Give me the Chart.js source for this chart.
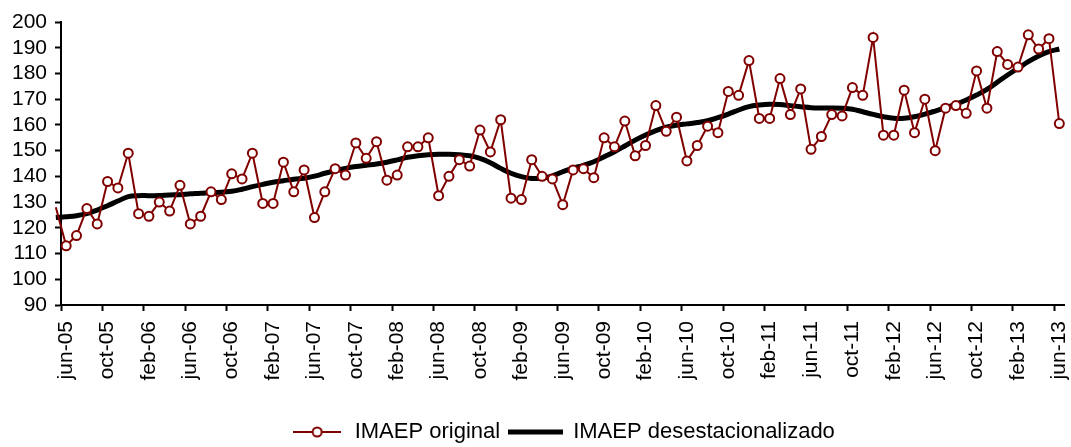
<!DOCTYPE html>
<html>
<head>
<meta charset="utf-8">
<script src="https://cdn.jsdelivr.net/npm/chart.js@4/dist/chart.umd.min.js"></script>
<style>
  html, body { margin: 0; padding: 0; background: #fff; }
  #wrap { width: 1071px; height: 447px; }
</style>
</head>
<body>
<div id="wrap"><canvas id="chart" width="1071" height="447"></canvas></div>
<script>
// month abbreviations (Spanish) and the span of the series: may-05 .. jun-13
// may-05 sits just left of the axis, only its line segment shows
var MONTHS = ["ene", "feb", "mar", "abr", "may", "jun", "jul", "ago", "sep", "oct", "nov", "dic"];
var labels = [];
for (var y = 2005, m = 4; y < 2013 || (y === 2013 && m <= 5); m++) {
  if (m === 12) { m = 0; y++; }
  labels.push(MONTHS[m] + "-" + String(y).slice(2));
}

var original = [
  128,
  113, 117, 127.5, 121.5, 138, 135.5, 149, 125.5, 124.5, 130, 126.5, 136.5,
  121.5, 124.5, 134, 131, 141, 139, 149, 129.5, 129.5, 145.5, 134, 142.5,
  124, 134, 143, 140.5, 153, 147, 153.5, 138.5, 140.5, 151.5, 151.5, 155,
  132.5, 140, 146.5, 144, 158, 149.5, 162, 131.5, 131, 146.5, 140, 139,
  129, 142.5, 143, 139.5, 155, 151.5, 161.5, 148, 152, 167.5, 157.5, 163,
  146, 152, 159.5, 157, 173, 171.5, 185, 162.5, 162.5, 178, 164, 174,
  150.5, 155.5, 164, 163.5, 174.5, 171.5, 194, 156, 156, 173.5, 157, 170,
  150, 166.5, 167.5, 164.5, 181, 166.5, 188.5, 183.5, 182.5, 195, 189.5, 193.5,
  160.5
];

var desest = [
  124,
  124.3, 124.7, 125.5, 126.9, 128.6, 130.4, 132.1, 132.5, 132.5, 132.6, 132.8, 132.9,
  133.2, 133.4, 133.7, 133.8, 134.2, 135, 136, 136.9, 137.7, 138.3, 138.9, 139.3,
  140.1, 141.2, 142.2, 143.1, 143.8, 144.3, 144.8, 145.5, 146.4, 147.4, 148, 148.4,
  148.6, 148.6, 148.4, 148, 147, 145.3, 143.1, 141.2, 139.9, 139.2, 139.3, 140.2,
  141.8, 143.2, 144.3, 145.7, 147.6, 149.6, 151.8, 154.1, 156.1, 157.8, 159.1, 159.9,
  160.4, 160.9, 161.6, 162.8, 164.2, 165.8, 167.1, 167.7, 168, 167.9, 167.5, 167.1,
  166.7, 166.6, 166.6, 166.5, 166.1, 165.1, 164.1, 163.2, 162.6, 162.6, 163.2, 164.2,
  165.4, 166.7, 168.1, 169.7, 171.6, 173.8, 176.6, 179.4, 182, 184.6, 186.8, 188.5,
  189.5
];

var SERIES_NAMES = ["IMAEP original", "IMAEP desestacionalizado"];
var RED = "#800000";
var FONT = "'Liberation Sans', Arial, sans-serif";

// legend swatches: line with an open circle, and a plain thick line
function swatch(w, lineW, color, circle) {
  var c = document.createElement("canvas");
  c.width = w; c.height = 16;
  var g = c.getContext("2d");
  g.strokeStyle = color;
  g.lineWidth = lineW;
  g.beginPath(); g.moveTo(0, 8); g.lineTo(w, 8); g.stroke();
  if (circle) {
    g.fillStyle = "#fff";
    g.lineWidth = 2;
    g.beginPath(); g.arc(w / 2, 8, 4.5, 0, Math.PI * 2); g.fill(); g.stroke();
  }
  return c;
}
var icons = [swatch(48, 2, RED, true), swatch(55, 5, "#000", false)];

// every 4th month gets a label and a tick mark, starting at jun-05 (index 1)
function shown(v) { return v >= 1 && (v - 1) % 4 === 0; }

new Chart(document.getElementById("chart").getContext("2d"), {
  type: "line",
  data: {
    labels: labels,
    datasets: [{
      label: SERIES_NAMES[0],
      data: original,
      borderColor: RED,
      borderWidth: 2,
      backgroundColor: "#fff",
      pointBackgroundColor: "#fff",
      pointBorderColor: RED,
      pointBorderWidth: 2,
      pointRadius: function (ctx) { return ctx.dataIndex === 0 ? 0 : 4.5; },
      tension: 0,
      clip: false,
    }, {
      label: SERIES_NAMES[1],
      data: desest,
      borderColor: "#000",
      borderWidth: 5,
      pointRadius: 0,
      tension: 0.4,
      clip: false,
    }],
  },
  options: {
    responsive: false,
    animation: false,
    events: [],
    layout: { padding: { top: 22, right: 2, left: 0, bottom: 0 } },
    plugins: {
      tooltip: { enabled: false },
      legend: {
        position: "bottom",
        fullSize: false,
        maxHeight: 35,
        labels: {
          color: "#000",
          font: { family: FONT, size: 22 },
          usePointStyle: true,
          pointStyleWidth: 53,
          padding: 9,
          generateLabels: function (chart) {
            var items = Chart.defaults.plugins.legend.labels.generateLabels(chart);
            items.forEach(function (it, i) { it.pointStyle = icons[i]; });
            return items;
          },
        },
      },
    },
    scales: {
      x: {
        type: "category",
        min: "jun-05",
        offset: true,
        border: { color: "#000", width: 2 },
        grid: {
          offset: true,
          drawOnChartArea: false,
          tickLength: 6,
          tickWidth: 2,
          tickColor: function (ctx) { return ctx.tick && shown(ctx.tick.value) ? "#000" : "rgba(0,0,0,0)"; },
        },
        ticks: {
          autoSkip: false,
          minRotation: 90,
          maxRotation: 90,
          padding: 10,
          color: "#000",
          font: { family: FONT, size: 21 },
          callback: function (v) { return shown(v) ? this.getLabelForValue(v) : ""; },
        },
        afterFit: function (s) { s.height = 107; s.paddingLeft = 0; s.paddingRight = 0; },
      },
      y: {
        min: 90,
        max: 200,
        border: { color: "#000", width: 2 },
        grid: { drawOnChartArea: false, tickLength: 6, tickWidth: 2, tickColor: "#000" },
        ticks: {
          stepSize: 10,
          autoSkip: false,
          padding: 8,
          color: "#000",
          font: { family: FONT, size: 21 },
        },
        afterFit: function (s) { s.width = 61; s.paddingTop = 0; s.paddingBottom = 0; },
      },
    },
  },
});
</script>
</body>
</html>
